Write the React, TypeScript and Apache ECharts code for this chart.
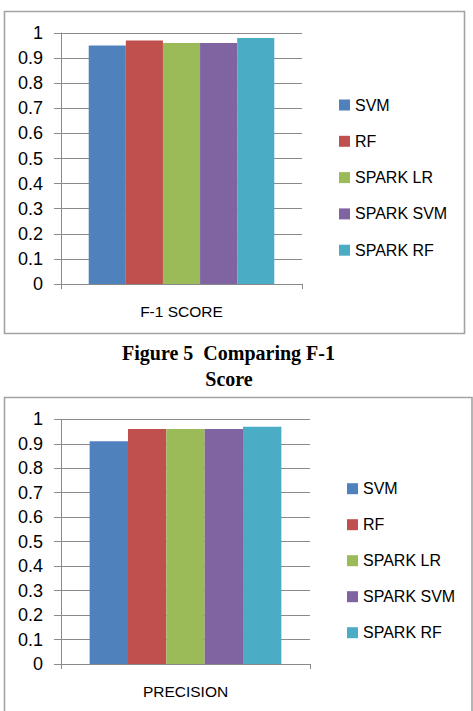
import React, { useEffect, useRef } from "react";
import * as echarts from "echarts";

// Models compared in both panels, with their bar colours
const models = ["SVM", "RF", "SPARK LR", "SPARK SVM", "SPARK RF"];
const modelColors = ["#4F81BD", "#C0504D", "#9BBB59", "#8064A2", "#4BACC6"];

// Upper panel: F-1 score
const f1Category = ["F-1 SCORE"];
const f1Scores = [0.95, 0.97, 0.96, 0.96, 0.98];

// Lower panel: precision
const precisionCategory = ["PRECISION"];
const precisionScores = [0.91, 0.96, 0.96, 0.96, 0.97];

// Value-axis tick labels (0 .. 1 in steps of 0.1)
const yTickLabels = ["0", "0.1", "0.2", "0.3", "0.4", "0.5", "0.6", "0.7", "0.8", "0.9", "1"];

const captionLines = ["Figure 5\u00a0 Comparing F-1", "Score"];

const SANS = "'Liberation Sans', Arial, sans-serif";
const SERIF = "'Liberation Serif', 'Times New Roman', serif";
const AXIS_GRAY = "#8a8a8a";
const FRAME_GRAY = "#a3a3a3";

function valueAxis(gridIndex: number) {
  return {
    type: "value",
    gridIndex,
    min: 0,
    max: 1,
    interval: 0.1,
    axisLine: { show: true, lineStyle: { color: AXIS_GRAY, width: 1 } },
    axisTick: { show: true, length: 7, lineStyle: { color: AXIS_GRAY, width: 1 } },
    splitLine: { show: true, lineStyle: { color: AXIS_GRAY, width: 1 } },
    axisLabel: {
      margin: 18,
      color: "#000",
      fontSize: 18,
      fontFamily: SANS,
      formatter: (v: number) => yTickLabels[Math.round(v * 10)],
    },
  };
}

function categoryAxis(gridIndex: number, data: string[]) {
  return {
    type: "category",
    gridIndex,
    data,
    axisLine: { show: true, lineStyle: { color: AXIS_GRAY, width: 1 } },
    axisTick: { show: true, length: 5, alignWithLabel: false, lineStyle: { color: AXIS_GRAY, width: 1 } },
    splitLine: { show: false },
    axisLabel: { margin: 19, color: "#000", fontSize: 15.5, fontFamily: SANS },
  };
}

function panelSeries(axisIndex: number, values: number[]) {
  return models.map((name, i) => ({
    name,
    type: "bar",
    xAxisIndex: axisIndex,
    yAxisIndex: axisIndex,
    data: [values[i]],
    itemStyle: { color: modelColors[i] },
    barGap: "0%",
    barCategoryGap: "23%",
  }));
}

function legend(left: number, top: number, itemGap: number) {
  return {
    orient: "vertical",
    left,
    top,
    itemGap,
    itemWidth: 11,
    itemHeight: 11,
    icon: "rect",
    selectedMode: false,
    data: models,
    textStyle: { color: "#000", fontSize: 16, lineHeight: 16, fontFamily: SANS, padding: [0, 0, 0, 0] },
  };
}

export default function App() {
  const ref = useRef<HTMLDivElement>(null);

  useEffect(() => {
    if (!ref.current) return;
    const chart = echarts.init(ref.current, null, { renderer: "svg" });
    chart.setOption({
      animation: false,
      backgroundColor: "#fff",
      grid: [
        { left: 61, top: 33, width: 241, height: 251 },
        { left: 61, top: 419.3, width: 249, height: 244.7 },
      ],
      xAxis: [categoryAxis(0, f1Category), categoryAxis(1, precisionCategory)],
      yAxis: [valueAxis(0), valueAxis(1)],
      legend: [legend(334, 92, 20.3), legend(342, 475.7, 20)],
      series: [...panelSeries(0, f1Scores), ...panelSeries(1, precisionScores)],
      graphic: [
        {
          type: "rect",
          shape: { x: 4.5, y: 11.5, width: 460, height: 322 },
          style: { fill: "none", stroke: FRAME_GRAY, lineWidth: 1.6 },
          silent: true,
        },
        {
          type: "rect",
          shape: { x: 4.5, y: 397.5, width: 467.5, height: 330 },
          style: { fill: "none", stroke: FRAME_GRAY, lineWidth: 1.6 },
          silent: true,
        },
        {
          type: "text",
          x: 228.5,
          y: 353,
          style: {
            text: captionLines[0],
            align: "center",
            verticalAlign: "middle",
            font: `bold 20px ${SERIF}`,
            fill: "#000",
          },
        },
        {
          type: "text",
          x: 229,
          y: 379,
          style: {
            text: captionLines[1],
            align: "center",
            verticalAlign: "middle",
            font: `bold 20px ${SERIF}`,
            fill: "#000",
          },
        },
      ],
    });
    return () => chart.dispose();
  }, []);

  return (
    <div
      ref={ref}
      style={{ position: "fixed", left: 0, top: 0, width: 473, height: 711, background: "#fff" }}
    />
  );
}
